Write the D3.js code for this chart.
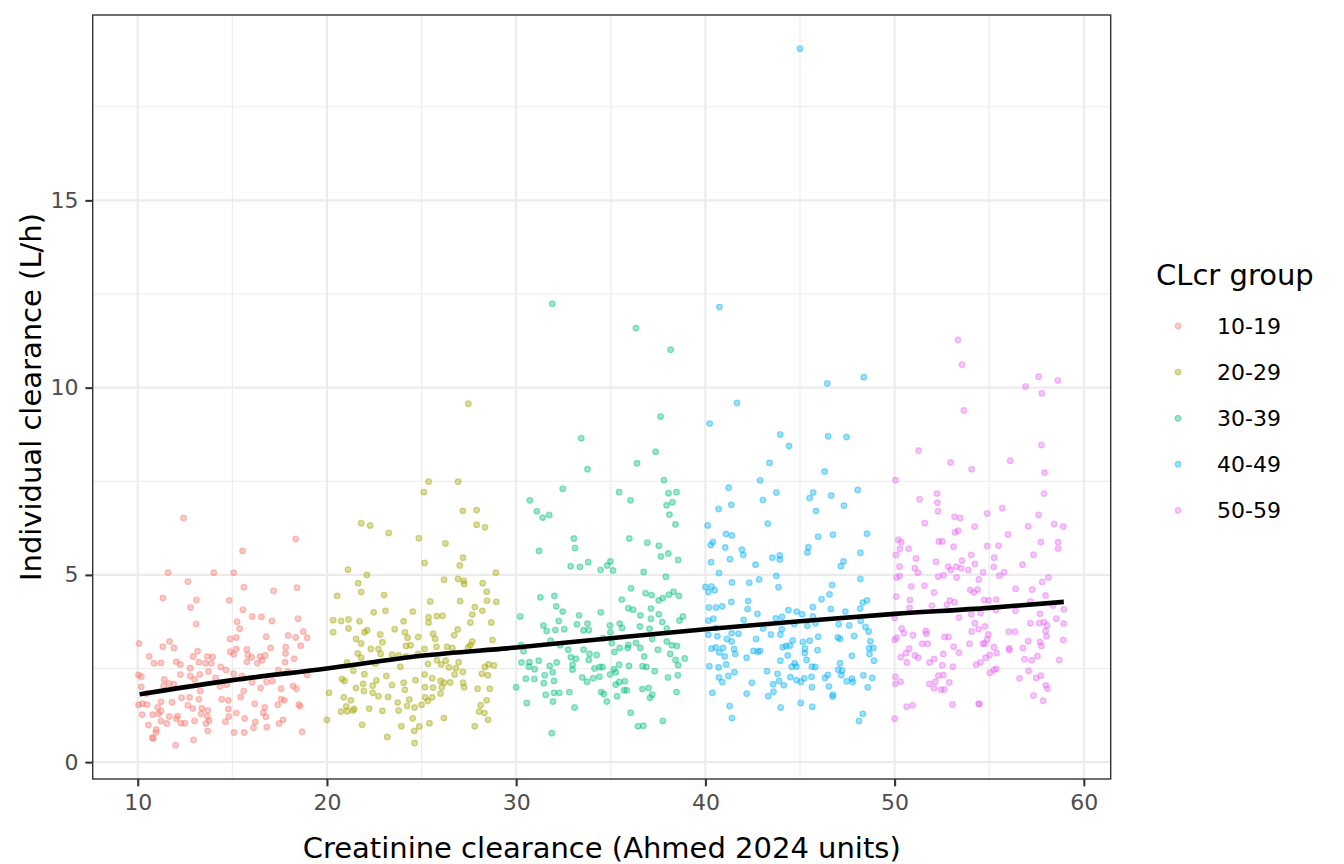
<!DOCTYPE html>
<html>
<head>
<meta charset="utf-8">
<script src="https://cdn.jsdelivr.net/npm/d3@7"></script>
<style>
  body { margin: 0; background: #fff; }
  text { font-family: "DejaVu Sans", sans-serif; }
</style>
</head>
<body>
<div id="chart"></div>
<script>
// groups and colours
const groups = ['10-19', '20-29', '30-39', '40-49', '50-59'];
const colors = ['#F8766D', '#A3A500', '#00BF7D', '#00B0F6', '#E76BF3'];

// [creatinine clearance, individual clearance]
const g1019 = [[12.42,6.52],[18.35,5.96],[15.54,5.64],[11.6,5.06],[14.02,5.06],[15.07,5.06],[12.65,4.82],[15.61,4.67],[17.18,4.57],[18.42,4.66],[11.33,4.38],[13.1,4.33],[14.84,4.32],[12.79,4.13],[15.56,4.07],[16.05,3.89],[16.54,3.88],[18.47,3.83],[15.25,3.75],[17.09,3.77],[13.09,3.69],[15.39,3.56],[18.75,3.49],[10.07,3.17],[11.68,3.22],[14.88,3.29],[15.21,3.33],[16.79,3.35],[17.95,3.38],[18.35,3.33],[18.95,3.32],[11.33,3.08],[11.91,3.05],[15.21,3.02],[15.77,3.01],[17.02,3.05],[17.82,3.07],[18.61,3.11],[13.17,2.96],[14.89,2.95],[10.6,2.82],[12.93,2.82],[13.68,2.82],[13.96,2.81],[15.07,2.88],[15.82,2.86],[16.02,2.8],[16.46,2.82],[16.74,2.85],[17.81,2.9],[18.26,2.76],[10.86,2.64],[11.23,2.65],[12.04,2.68],[12.25,2.61],[13.23,2.67],[13.58,2.64],[13.89,2.64],[12.77,2.51],[14.39,2.54],[15.77,2.68],[16.32,2.64],[16.58,2.72],[17.79,2.67],[14.67,2.46],[15.07,2.36],[15.51,2.3],[17.44,2.46],[17.93,2.42],[18.95,2.33],[10.04,2.33],[10.19,2.28],[12.25,2.34],[12.77,2.3],[13.28,2.34],[13.74,2.42],[11.4,2.21],[11.65,2.1],[13.0,2.21],[14.12,2.25],[14.35,2.02],[14.7,2.07],[16.04,2.13],[16.81,2.14],[17.12,2.16],[10.19,2.01],[11.37,2.04],[11.91,2.08],[13.3,1.9],[15.6,1.9],[16.49,1.98],[17.58,1.96],[18.21,2.03],[18.39,1.96],[10.46,1.83],[15.44,1.74],[10.04,1.53],[10.25,1.56],[10.49,1.54],[11.23,1.61],[11.81,1.6],[12.32,1.72],[12.74,1.73],[13.23,1.68],[14.44,1.68],[14.79,1.65],[17.4,1.53],[17.58,1.68],[17.75,1.65],[18.51,1.54],[18.58,1.49],[16.18,1.56],[11.05,1.46],[11.23,1.36],[12.65,1.52],[12.91,1.43],[13.39,1.44],[13.7,1.38],[14.79,1.42],[16.72,1.46],[10.23,1.27],[10.79,1.27],[11.09,1.29],[11.67,1.22],[12.11,1.23],[13.35,1.29],[13.68,1.22],[14.81,1.22],[15.21,1.31],[16.63,1.32],[10.56,0.99],[11.23,1.1],[11.54,1.03],[12.04,1.16],[12.28,1.04],[12.49,1.04],[13.0,1.1],[13.77,1.11],[14.63,1.08],[15.65,1.17],[16.21,1.07],[16.77,1.21],[17.47,1.03],[17.68,1.13],[13.6,1.03],[10.98,0.87],[10.96,0.79],[10.77,0.65],[10.82,0.63],[13.7,0.83],[15.09,0.79],[15.63,0.79],[16.12,0.92],[16.82,0.94],[18.68,0.81],[12.0,0.45],[12.95,0.59]];

const g2029 = [[27.47,9.57],[25.37,7.49],[26.93,7.49],[25.12,7.21],[27.18,6.71],[27.91,6.73],[21.81,6.38],[22.28,6.32],[27.91,6.34],[28.35,6.27],[23.26,6.12],[24.86,5.98],[26.26,5.84],[25.16,5.32],[27.19,5.46],[27.02,5.25],[21.11,5.14],[22.11,5.0],[28.93,5.06],[21.65,4.78],[21.81,4.54],[26.19,4.87],[26.93,4.89],[27.23,4.84],[27.25,4.76],[28.23,4.78],[28.44,4.55],[20.54,4.44],[23.02,4.46],[25.46,4.29],[27.04,4.3],[28.46,4.31],[28.95,4.28],[27.81,4.14],[28.21,4.04],[22.47,4.0],[23.09,4.04],[24.54,4.02],[25.37,3.87],[25.81,3.9],[26.11,3.91],[27.68,3.94],[20.33,3.79],[20.75,3.77],[21.14,3.81],[21.72,3.76],[20.33,3.47],[21.14,3.57],[24.05,3.76],[25.37,3.73],[27.58,3.73],[28.68,3.73],[21.98,3.47],[22.12,3.52],[22.82,3.41],[23.58,3.55],[24.12,3.47],[24.82,3.34],[25.61,3.43],[26.91,3.54],[26.72,3.39],[21.54,3.29],[21.81,3.17],[22.93,3.2],[24.26,3.32],[25.72,3.29],[27.68,3.22],[28.75,3.26],[22.32,3.02],[22.72,3.02],[22.84,2.89],[23.44,2.87],[23.79,2.85],[24.18,3.1],[24.42,3.12],[25.16,3.02],[25.79,3.08],[26.35,3.08],[26.63,3.05],[27.46,3.06],[27.58,3.12],[21.63,2.9],[21.81,2.79],[21.07,2.66],[22.56,2.63],[23.88,2.55],[24.18,2.82],[24.82,2.89],[25.34,2.62],[25.81,2.72],[26.28,2.71],[26.04,2.61],[26.45,2.53],[26.82,2.51],[26.96,2.67],[27.18,2.41],[28.35,2.54],[28.54,2.61],[28.82,2.58],[21.39,2.44],[21.98,2.35],[20.79,2.22],[20.93,2.17],[23.14,2.3],[24.05,2.12],[24.68,2.19],[25.16,2.34],[25.56,2.24],[26.0,2.17],[26.19,2.12],[26.51,2.13],[26.75,2.34],[27.19,2.12],[28.19,2.36],[28.5,2.32],[21.53,1.98],[21.91,2.09],[22.42,2.04],[22.61,2.18],[23.44,2.06],[24.12,1.93],[25.18,2.0],[25.61,1.99],[26.07,2.0],[27.25,2.0],[27.96,1.96],[28.61,1.96],[20.11,1.85],[20.89,1.73],[21.95,1.9],[22.42,1.85],[22.72,1.76],[23.23,1.74],[23.74,1.59],[24.35,1.67],[25.19,1.73],[25.56,1.73],[26.0,1.83],[21.26,1.65],[21.02,1.49],[21.44,1.42],[22.23,1.43],[22.93,1.37],[23.79,1.38],[24.23,1.5],[24.63,1.46],[25.0,1.53],[25.33,1.63],[28.12,1.52],[28.44,1.65],[20.74,1.35],[21.07,1.36],[21.37,1.38],[24.53,1.17],[28.04,1.35],[28.32,1.31],[20.0,1.13],[21.86,1.0],[23.93,0.96],[24.88,0.95],[25.42,1.04],[26.18,1.18],[27.81,0.96],[28.51,1.13],[24.61,0.83],[23.19,0.67],[24.63,0.51]];

const g3039 = [[31.91,12.24],[36.33,11.59],[38.16,11.01],[37.63,9.23],[33.44,8.65],[37.37,8.29],[36.39,7.98],[33.77,7.82],[37.81,7.53],[32.46,7.3],[35.44,7.21],[38.05,7.18],[38.47,7.21],[30.72,6.99],[36.04,6.99],[38.26,6.94],[37.95,6.86],[31.09,6.7],[31.4,6.53],[31.75,6.6],[38.1,6.61],[38.42,6.35],[33.05,5.97],[33.11,5.72],[35.98,5.97],[36.93,5.86],[37.54,5.78],[31.21,5.64],[37.65,5.49],[38.04,5.57],[38.56,5.4],[32.88,5.23],[33.37,5.21],[33.81,5.34],[34.46,5.13],[34.81,5.25],[34.98,5.36],[35.12,5.12],[36.74,5.08],[37.91,4.95],[31.28,4.4],[32.02,4.44],[30.21,3.89],[32.12,4.16],[32.46,4.02],[32.25,3.77],[31.44,3.65],[31.61,3.5],[32.07,3.53],[32.54,3.55],[33.21,3.68],[33.32,3.92],[33.77,3.7],[34.47,4.0],[33.56,3.52],[33.84,3.53],[34.96,3.65],[34.98,3.47],[35.47,3.7],[35.6,3.58],[36.07,4.64],[35.58,4.34],[35.93,4.11],[36.18,4.07],[36.56,3.92],[36.84,4.51],[37.16,4.46],[37.53,4.32],[37.75,4.38],[38.07,4.47],[38.32,4.55],[38.6,4.44],[37.12,4.1],[37.54,3.95],[37.12,3.83],[37.72,3.74],[38.81,3.89],[38.63,3.78],[36.54,3.62],[37.05,3.56],[37.96,3.57],[30.25,3.12],[30.39,2.96],[31.82,3.24],[32.33,3.12],[32.75,3.0],[33.16,2.76],[33.56,3.0],[33.88,2.89],[34.25,2.86],[34.6,3.31],[35.05,3.18],[35.19,2.94],[35.47,3.05],[35.89,3.05],[35.93,3.13],[36.33,3.18],[36.56,3.05],[36.77,2.82],[37.19,3.29],[37.49,3.0],[37.96,3.22],[38.23,3.12],[38.49,3.1],[38.14,2.89],[38.91,2.77],[30.28,2.66],[30.7,2.67],[31.19,2.71],[30.67,2.55],[30.98,2.48],[31.77,2.57],[32.14,2.66],[32.89,2.8],[32.98,2.6],[33.84,2.73],[34.14,2.5],[34.42,2.54],[34.56,2.54],[35.16,2.48],[35.44,2.6],[35.96,2.57],[36.68,2.56],[36.88,2.54],[37.32,2.43],[38.42,2.73],[38.56,2.59],[30.51,2.23],[30.96,2.22],[31.51,2.32],[31.46,2.11],[32.0,2.17],[31.93,2.4],[32.98,2.47],[33.49,2.26],[33.74,2.15],[34.07,2.24],[34.4,2.28],[34.96,2.34],[35.26,2.4],[35.26,2.07],[35.44,2.14],[35.74,2.16],[38.54,2.32],[38.02,2.26],[30.0,2.0],[30.56,1.58],[31.56,1.8],[32.0,1.85],[32.28,1.85],[32.81,1.87],[31.95,1.62],[33.09,1.46],[34.49,1.87],[34.63,1.82],[34.79,1.62],[35.33,1.76],[35.7,1.92],[35.84,1.92],[36.67,1.95],[37.0,1.98],[37.19,1.8],[37.07,1.72],[38.47,1.87],[36.05,1.32],[36.44,0.96],[36.72,0.97],[37.75,1.1],[31.88,0.77]];

const g4049 = [[45.0,19.05],[40.74,12.15],[46.44,10.11],[48.37,10.28],[41.67,9.59],[40.23,9.04],[43.96,8.75],[44.42,8.44],[46.49,8.7],[47.46,8.68],[43.39,7.99],[46.3,7.76],[42.89,7.52],[41.23,7.33],[43.75,7.2],[45.7,7.2],[45.51,7.05],[46.65,7.12],[48.05,7.27],[40.7,6.76],[41.37,6.87],[43.04,7.0],[45.84,6.71],[47.32,6.85],[40.12,6.32],[43.3,6.37],[41.09,6.09],[41.4,6.05],[40.4,5.88],[40.28,5.8],[41.05,5.73],[41.93,5.67],[42.0,5.53],[41.3,5.42],[43.54,5.46],[43.93,5.52],[43.93,5.41],[45.96,6.02],[46.74,6.07],[48.54,6.1],[45.44,5.74],[45.39,5.6],[48.19,5.59],[40.3,5.34],[42.65,5.27],[47.3,5.36],[47.16,5.23],[40.72,5.05],[43.75,4.97],[40.0,4.68],[40.16,4.54],[40.32,4.69],[40.49,4.59],[41.4,4.8],[42.32,4.79],[42.84,4.88],[43.86,4.67],[46.7,4.73],[48.19,4.89],[46.56,4.48],[46.14,4.35],[48.32,4.26],[48.54,4.32],[40.19,4.13],[40.56,4.13],[40.89,4.16],[41.37,4.28],[42.26,4.3],[42.23,4.09],[42.75,3.96],[44.39,4.06],[44.82,4.02],[45.11,3.95],[45.68,4.14],[46.63,4.09],[47.4,4.02],[48.18,4.1],[40.16,3.78],[40.42,3.83],[42.02,3.8],[43.72,3.84],[44.05,3.88],[45.68,3.89],[48.21,3.77],[40.56,3.58],[40.16,3.4],[40.63,3.36],[41.39,3.44],[41.75,3.43],[43.05,3.57],[43.46,3.41],[43.96,3.41],[44.04,3.55],[44.7,3.69],[45.39,3.64],[45.82,3.71],[47.04,3.68],[47.6,3.65],[48.46,3.61],[48.63,3.49],[41.14,3.29],[41.39,3.22],[42.68,3.29],[45.96,3.35],[47.0,3.33],[47.12,3.29],[47.86,3.37],[48.72,3.23],[40.32,3.03],[40.56,3.06],[40.93,3.05],[40.74,2.93],[41.02,2.82],[41.51,3.02],[41.58,2.89],[42.54,2.97],[42.77,2.95],[42.89,2.97],[44.09,3.07],[44.26,3.1],[44.46,3.11],[44.61,3.25],[45.16,3.21],[45.26,3.03],[45.25,2.91],[45.51,3.24],[45.93,2.99],[48.65,3.04],[48.88,3.05],[48.67,2.89],[42.18,2.79],[44.35,2.85],[47.74,2.84],[48.91,2.71],[40.21,2.56],[40.7,2.53],[41.09,2.61],[43.96,2.71],[44.56,2.55],[44.72,2.64],[44.81,2.55],[45.35,2.73],[45.63,2.55],[45.81,2.54],[47.12,2.64],[47.02,2.47],[47.23,2.45],[40.72,2.26],[40.89,2.14],[41.21,2.3],[41.53,2.4],[43.26,2.43],[43.81,2.36],[43.89,2.17],[44.14,2.05],[43.58,2.08],[44.49,2.27],[44.82,2.19],[45.05,2.14],[45.23,2.24],[45.61,2.28],[46.32,2.25],[46.47,2.33],[46.53,2.02],[47.18,2.32],[47.47,2.16],[47.75,2.23],[47.79,2.14],[48.35,2.32],[48.82,2.25],[48.58,2.0],[45.63,2.0],[42.46,2.12],[40.37,1.85],[42.18,1.83],[43.32,1.76],[43.6,1.88],[46.74,1.8],[46.72,1.75],[41.28,1.5],[41.4,1.18],[43.98,1.46],[45.04,1.58],[45.65,1.48],[48.32,1.29],[48.12,1.1]];

const g5059 = [[53.35,11.27],[53.56,10.61],[56.92,10.03],[57.61,10.29],[58.63,10.19],[57.78,9.85],[53.66,9.39],[57.76,8.47],[51.27,8.32],[56.11,8.05],[52.96,8.0],[54.07,7.82],[57.92,7.73],[50.05,7.53],[57.9,7.17],[52.24,7.17],[51.32,7.02],[52.26,6.93],[52.29,6.7],[55.69,6.78],[53.17,6.55],[53.47,6.52],[54.89,6.64],[57.61,6.6],[51.6,6.38],[54.23,6.29],[57.06,6.3],[58.43,6.36],[58.91,6.29],[53.19,6.14],[53.36,6.18],[55.99,6.08],[50.19,5.94],[50.35,5.87],[50.28,5.69],[50.74,5.7],[52.34,5.89],[52.52,5.89],[53.12,5.75],[54.89,5.77],[55.49,5.78],[57.73,5.88],[58.64,5.87],[58.64,5.7],[50.07,5.53],[51.13,5.44],[52.18,5.35],[54.05,5.53],[54.24,5.29],[55.26,5.46],[57.34,5.54],[50.26,5.22],[51.07,5.18],[51.23,5.06],[52.83,5.22],[52.97,5.13],[53.26,5.22],[53.56,5.38],[53.51,5.18],[53.89,5.13],[55.24,5.21],[54.67,5.07],[55.54,4.98],[55.79,5.07],[56.76,5.27],[50.11,4.93],[50.26,4.97],[52.31,4.95],[52.59,4.99],[53.28,4.93],[54.45,4.88],[58.13,4.93],[50.88,4.69],[51.58,4.71],[57.8,4.81],[54.0,4.6],[54.19,4.53],[54.38,4.61],[56.39,4.63],[57.27,4.61],[50.09,4.42],[52.08,4.53],[50.81,4.33],[52.92,4.32],[53.17,4.27],[54.74,4.33],[54.98,4.32],[55.37,4.34],[57.98,4.45],[50.79,4.12],[51.97,4.18],[52.76,4.2],[55.35,4.06],[56.39,4.04],[57.18,4.29],[58.38,4.18],[58.94,4.08],[50.0,3.85],[53.4,3.86],[54.05,3.95],[54.54,3.98],[57.68,3.96],[58.54,3.83],[50.37,3.57],[50.49,3.44],[51.65,3.5],[51.67,3.43],[50.97,3.39],[54.24,3.71],[54.07,3.49],[54.44,3.55],[54.77,3.62],[54.95,3.41],[56.04,3.48],[56.37,3.48],[57.18,3.71],[57.64,3.71],[57.89,3.74],[58.06,3.65],[58.94,3.7],[57.98,3.5],[58.03,3.36],[50.0,3.27],[50.11,3.32],[52.64,3.34],[52.85,3.34],[54.89,3.28],[54.67,3.16],[54.77,3.17],[57.06,3.23],[57.68,3.21],[57.76,3.1],[58.91,3.26],[51.46,3.16],[51.74,3.16],[53.96,3.16],[50.77,3.03],[53.12,3.08],[55.25,3.07],[56.06,3.04],[56.06,2.99],[56.78,3.05],[50.6,2.91],[51.07,2.85],[51.25,2.79],[52.57,2.89],[53.4,2.92],[55.39,2.91],[55.02,2.86],[54.81,2.79],[57.55,2.83],[50.33,2.8],[50.65,2.66],[51.85,2.66],[52.08,2.75],[52.52,2.59],[53.08,2.55],[54.31,2.6],[54.54,2.66],[56.87,2.75],[57.24,2.72],[58.7,2.73],[55.04,2.39],[55.25,2.46],[55.37,2.49],[57.08,2.44],[50.04,2.28],[50.04,2.09],[50.32,2.15],[52.31,2.31],[52.57,2.33],[52.15,2.15],[51.83,2.09],[52.08,1.97],[52.45,1.93],[52.62,1.94],[52.89,2.13],[56.6,2.24],[57.48,2.25],[57.73,2.31],[57.99,2.05],[58.08,1.96],[57.34,1.78],[57.85,1.64],[53.05,1.54],[54.44,1.56],[54.49,1.55],[50.63,1.48],[50.95,1.52],[50.0,1.16]];

// fitted smooth
const smoothX = [10.1, 15, 20, 25, 30, 35, 40, 45, 50, 55, 58.94];
const smoothY = [1.81, 2.19, 2.5, 2.84, 3.06, 3.31, 3.55, 3.76, 3.96, 4.12, 4.28];

const xTicks = [10, 20, 30, 40, 50, 60];
const xMinor = [15, 25, 35, 45, 55];
const yTicks = [0, 5, 10, 15];
const yMinor = [2.5, 7.5, 12.5, 17.5];

const seriesData = [g1019, g2029, g3039, g4049, g5059];

const width = 1344, height = 864;
const panel = {left: 92.7, right: 1110.7, top: 15, bottom: 779};

const svg = d3.select('#chart').append('svg')
    .attr('width', width)
    .attr('height', height);

const x = d3.scaleLinear().domain([7.62, 61.42]).range([panel.left, panel.right]);
const y = d3.scaleLinear().domain([-0.45, 19.95]).range([panel.bottom, panel.top]);

// grid
const grid = svg.append('g');
grid.selectAll('.xminor').data(xMinor).enter().append('line')
    .attr('x1', d => x(d)).attr('x2', d => x(d))
    .attr('y1', panel.top).attr('y2', panel.bottom)
    .attr('stroke', '#EBEBEB').attr('stroke-width', 1.1);
grid.selectAll('.yminor').data(yMinor).enter().append('line')
    .attr('y1', d => y(d)).attr('y2', d => y(d))
    .attr('x1', panel.left).attr('x2', panel.right)
    .attr('stroke', '#EBEBEB').attr('stroke-width', 1.1);
grid.selectAll('.xmajor').data(xTicks).enter().append('line')
    .attr('x1', d => x(d)).attr('x2', d => x(d))
    .attr('y1', panel.top).attr('y2', panel.bottom)
    .attr('stroke', '#EBEBEB').attr('stroke-width', 2.1);
grid.selectAll('.ymajor').data(yTicks).enter().append('line')
    .attr('y1', d => y(d)).attr('y2', d => y(d))
    .attr('x1', panel.left).attr('x2', panel.right)
    .attr('stroke', '#EBEBEB').attr('stroke-width', 2.1);

// points
seriesData.forEach(function(pts, i){
    svg.append('g')
        .selectAll('circle')
        .data(pts)
        .enter()
        .append('circle')
        .attr('cx', d => x(d[0]))
        .attr('cy', d => y(d[1]))
        .attr('r', 2.8)
        .attr('fill', colors[i])
        .attr('fill-opacity', 0.38)
        .attr('stroke', colors[i])
        .attr('stroke-opacity', 0.42)
        .attr('stroke-width', 1.3);
});

// smooth line
const line = d3.line()
    .x(d => x(d[0]))
    .y(d => y(d[1]))
    .curve(d3.curveMonotoneX);
svg.append('path')
    .datum(d3.zip(smoothX, smoothY))
    .attr('d', line)
    .attr('fill', 'none')
    .attr('stroke', '#000')
    .attr('stroke-width', 4.6);

// panel border
svg.append('rect')
    .attr('x', panel.left).attr('y', panel.top)
    .attr('width', panel.right - panel.left)
    .attr('height', panel.bottom - panel.top)
    .attr('fill', 'none')
    .attr('stroke', '#333333')
    .attr('stroke-width', 1.4);

// axes
const xAxis = svg.append('g')
    .attr('transform', `translate(0,${panel.bottom})`)
    .call(d3.axisBottom(x).tickValues(xTicks).tickSize(7.3).tickPadding(8));
const yAxis = svg.append('g')
    .attr('transform', `translate(${panel.left},0)`)
    .call(d3.axisLeft(y).tickValues(yTicks).tickSize(7.3).tickPadding(7));
[xAxis, yAxis].forEach(function(ax){
    ax.select('.domain').remove();
    ax.selectAll('.tick line').attr('stroke', '#333333').attr('stroke-width', 2.1);
    ax.selectAll('.tick text')
        .attr('fill', '#4D4D4D')
        .style('font-size', '22px')
        .style('font-family', '"DejaVu Sans", sans-serif');
});

// axis titles
svg.append('text')
    .attr('x', (panel.left + panel.right) / 2)
    .attr('y', 858)
    .attr('text-anchor', 'middle')
    .style('font-size', '29px')
    .text('Creatinine clearance (Ahmed 2024 units)');
svg.append('text')
    .attr('transform', `translate(41,${(panel.top + panel.bottom) / 2}) rotate(-90)`)
    .attr('text-anchor', 'middle')
    .style('font-size', '29px')
    .text('Individual clearance (L/h)');

// legend
const legend = svg.append('g');
legend.append('text')
    .attr('x', 1156).attr('y', 285)
    .style('font-size', '29px')
    .text('CLcr group');
const keys = legend.selectAll('.key').data(groups).enter().append('g')
    .attr('transform', (d, i) => `translate(0,${326 + i * 46.1})`);
keys.append('circle')
    .attr('cx', 1178).attr('cy', 0).attr('r', 2.8)
    .attr('fill', (d, i) => colors[i]).attr('fill-opacity', 0.38)
    .attr('stroke', (d, i) => colors[i]).attr('stroke-opacity', 0.42)
    .attr('stroke-width', 1.3);
keys.append('text')
    .attr('x', 1217).attr('y', 0)
    .attr('dy', '0.36em')
    .style('font-size', '22px')
    .text(d => d);
</script>
</body>
</html>
